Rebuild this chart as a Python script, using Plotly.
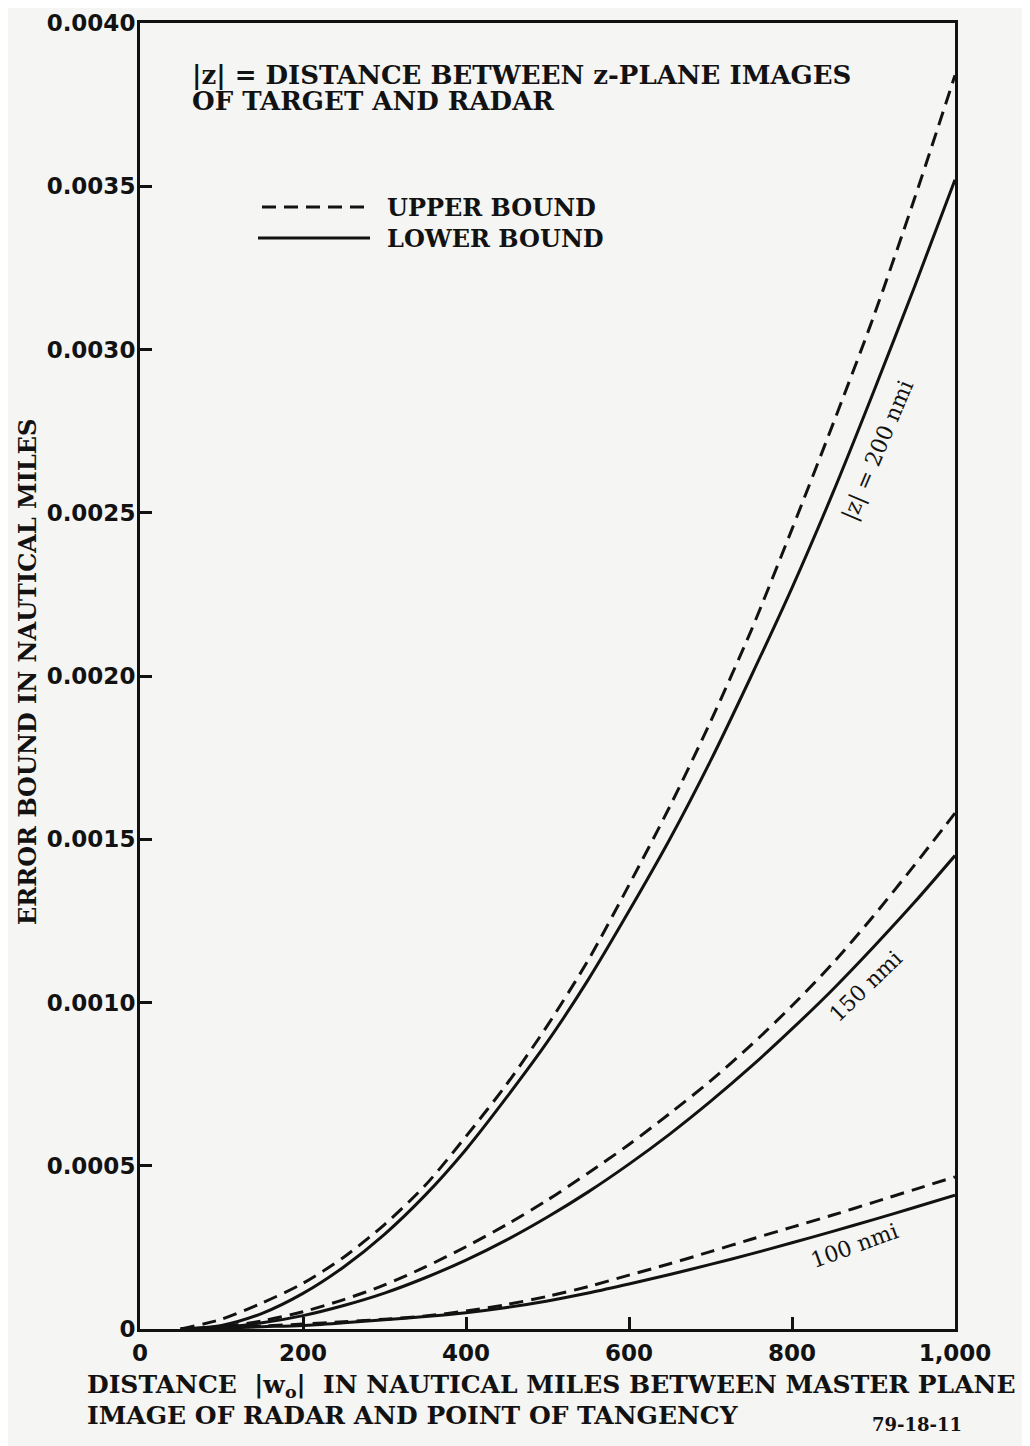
import plotly.graph_objects as go

# ---------------- data ----------------
x_nm = [50, 100, 150, 200, 250, 300, 350, 400, 450, 500,
        550, 600, 650, 700, 750, 800, 850, 900, 950, 1000]

upper_200 = [0, 0.00003, 0.00008, 0.00014, 0.00022, 0.00032, 0.00044, 0.00059, 0.00075, 0.00093,
             0.00113, 0.00136, 0.00160, 0.00186, 0.00214, 0.00245, 0.00277, 0.00310, 0.00346, 0.00384]
lower_200 = [0, 0.000011, 0.000048, 0.000109, 0.00019, 0.00029, 0.00041, 0.00055, 0.00071, 0.00088,
             0.00107, 0.00128, 0.00150, 0.00174, 0.00200, 0.00227, 0.00256, 0.00287, 0.00319, 0.00352]
upper_150 = [0, 0.000007, 0.000025, 0.000053, 0.00009, 0.000135, 0.00019, 0.000252, 0.00032, 0.000395,
             0.000478, 0.000565, 0.00066, 0.00076, 0.00087, 0.00099, 0.00112, 0.001265, 0.00142, 0.00158]
lower_150 = [0, 0.000005, 0.000019, 0.000041, 0.000072, 0.00011, 0.000157, 0.000211, 0.000273, 0.000343,
             0.00042, 0.000505, 0.000597, 0.000697, 0.000804, 0.000919, 0.00104, 0.00117, 0.001306, 0.00145]
upper_100 = [0, 0.000004, 0.000009, 0.000015, 0.000022, 0.00003, 0.00004, 0.000055, 0.000075, 0.0001,
             0.00013, 0.000165, 0.0002, 0.000237, 0.000275, 0.000312, 0.000349, 0.000388, 0.000427, 0.000466]
lower_100 = [0, 0.000003, 0.000007, 0.000011, 0.000019, 0.000028, 0.000038, 0.00005, 0.000066, 0.000086,
             0.00011, 0.000138, 0.000167, 0.000198, 0.00023, 0.000264, 0.000299, 0.000335, 0.000372, 0.00041]

x_tickvals = [0, 200, 400, 600, 800, 1000]
x_ticktext = ["0", "200", "400", "600", "800", "1,000"]
y_tickvals = [0, 0.0005, 0.0010, 0.0015, 0.0020, 0.0025, 0.0030, 0.0035, 0.0040]
y_ticktext = ["0", "0.0005", "0.0010", "0.0015", "0.0020", "0.0025", "0.0030", "0.0035", "0.0040"]

INK = "#121212"
BG = "#f5f5f3"
SERIF = "DejaVu Serif"
SANS = "DejaVu Sans"
DASH = "14px,8px"

fig = go.Figure()

series = [
    (upper_200, DASH), (lower_200, "solid"),
    (upper_150, DASH), (lower_150, "solid"),
    (upper_100, DASH), (lower_100, "solid"),
]
for ys, dash in series:
    fig.add_trace(go.Scatter(
        x=x_nm, y=ys, mode="lines", showlegend=False, hoverinfo="skip",
        line=dict(color=INK, width=3, dash=dash, shape="spline", smoothing=0.8),
    ))

# page body has an 8px margin: figure sits at (8, 8)
fig.update_layout(
    width=1022, height=1438, autosize=False,
    margin=dict(l=132, r=75, t=15, b=117),
    paper_bgcolor=BG, plot_bgcolor=BG,
    font=dict(family=SERIF, color=INK),
    showlegend=False,
)

fig.update_xaxes(
    range=[0, 1000], showgrid=False, zeroline=False, automargin=False,
    showline=True, linecolor=INK, linewidth=3, mirror=True,
    ticks="inside", ticklen=12, tickwidth=3, tickcolor=INK,
    tickvals=x_tickvals, ticktext=["<b>%s</b>" % t for t in x_ticktext],
    tickfont=dict(family=SANS, size=23, color=INK),
    ticklabelstandoff=1,
)
fig.update_yaxes(
    range=[0, 0.004], showgrid=False, zeroline=False, automargin=False,
    showline=True, linecolor=INK, linewidth=3, mirror=True,
    ticks="inside", ticklen=12, tickwidth=3, tickcolor=INK,
    tickvals=y_tickvals, ticktext=["<b>%s</b>" % t for t in y_ticktext],
    tickfont=dict(family=SANS, size=23, color=INK),
    ticklabelstandoff=-3,
)

# page-pixel -> paper helpers (plot area spans page x 140..955, y 23..1329)
def px_x(p):
    return (p - 140) / 815.0

def px_y(p):
    return (1329 - p) / 1306.0

ann = []
ann.append(dict(x=px_x(190), y=px_y(75), xref="paper", yref="paper", xanchor="left", yanchor="middle",
                text="<b>|z| = DISTANCE BETWEEN z-PLANE IMAGES</b>", showarrow=False,
                font=dict(family=SERIF, size=26, color=INK)))
ann.append(dict(x=px_x(190), y=px_y(101), xref="paper", yref="paper", xanchor="left", yanchor="middle",
                text="<b>OF TARGET AND RADAR</b>", showarrow=False,
                font=dict(family=SERIF, size=26, color=INK)))
ann.append(dict(x=px_x(385), y=px_y(207), xref="paper", yref="paper", xanchor="left", yanchor="middle",
                text="<b>UPPER BOUND</b>", showarrow=False, font=dict(family=SERIF, size=24, color=INK)))
ann.append(dict(x=px_x(385), y=px_y(238), xref="paper", yref="paper", xanchor="left", yanchor="middle",
                text="<b>LOWER BOUND</b>", showarrow=False, font=dict(family=SERIF, size=24, color=INK)))
# curve labels
ann.append(dict(x=905, y=0.00269, xref="x", yref="y", text="|z| = 200 nmi", textangle=-67,
                showarrow=False, font=dict(family=SERIF, size=22, color=INK)))
ann.append(dict(x=890, y=0.00105, xref="x", yref="y", text="150 nmi", textangle=-44,
                showarrow=False, font=dict(family=SERIF, size=22, color=INK)))
ann.append(dict(x=877, y=0.000255, xref="x", yref="y", text="100 nmi", textangle=-20,
                showarrow=False, font=dict(family=SERIF, size=22, color=INK)))
# axis titles
ann.append(dict(x=px_x(27), y=px_y(672), xref="paper", yref="paper", xanchor="center", yanchor="middle",
                text="<b>ERROR BOUND IN NAUTICAL MILES</b>", textangle=-90, showarrow=False,
                font=dict(family=SERIF, size=24, color=INK)))
ann.append(dict(x=px_x(85), y=px_y(1386), xref="paper", yref="paper", xanchor="left", yanchor="middle",
                text="<b>DISTANCE  |w<sub>o</sub>|  IN NAUTICAL MILES BETWEEN MASTER PLANE</b>",
                showarrow=False, font=dict(family=SERIF, size=25, color=INK)))
ann.append(dict(x=px_x(85), y=px_y(1415), xref="paper", yref="paper", xanchor="left", yanchor="middle",
                text="<b>IMAGE OF RADAR AND POINT OF TANGENCY</b>",
                showarrow=False, font=dict(family=SERIF, size=25, color=INK)))
ann.append(dict(x=px_x(917), y=px_y(1424), xref="paper", yref="paper", xanchor="center", yanchor="middle",
                text="<b>79-18-11</b>", showarrow=False, font=dict(family=SERIF, size=18, color=INK)))
fig.update_layout(annotations=ann)

# legend samples
fig.add_shape(type="line", xref="paper", yref="paper", x0=px_x(262), x1=px_x(370), y0=px_y(207), y1=px_y(207),
              line=dict(color=INK, width=3, dash=DASH))
fig.add_shape(type="line", xref="paper", yref="paper", x0=px_x(258), x1=px_x(370), y0=px_y(238), y1=px_y(238),
              line=dict(color=INK, width=3))

fig.write_html("out.html")
